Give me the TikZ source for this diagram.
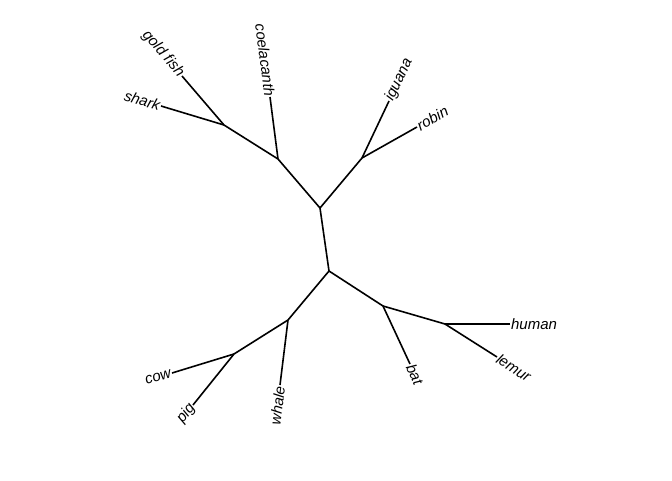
\documentclass[tikz,border=0pt]{standalone}
\usepackage{fontspec}
\setmainfont{Liberation Sans}
\begin{document}
\begin{tikzpicture}[x=1pt, y=-1pt, line width=1.6pt,
  leaf/.style={font=\itshape\fontsize{15}{17}\selectfont, inner sep=0.3pt}]
\useasboundingbox (0,0) rectangle (672,480);
% Internal nodes
\coordinate (top) at (320,208);
\coordinate (bottom) at (329,271);
\coordinate (fish) at (278,159);
\coordinate (sharks) at (224,125);
\coordinate (reptile) at (362,158);
\coordinate (mammal) at (288,320);
\coordinate (ungulate) at (234,354);
\coordinate (batprim) at (383,306);
\coordinate (primate) at (445,324);

% Leaves
\node[leaf, anchor=east, rotate=-49.4] (goldfish) at (182,76) {gold fish};
\node[leaf, anchor=east, rotate=-16.8] (shark) at (161,106) {shark};
\node[leaf, anchor=east, rotate=-82.6] (coelacanth) at (270,97) {coelacanth};
\node[leaf, anchor=west, rotate=64.6] (iguana) at (389,101) {iguana};
\node[leaf, anchor=west, rotate=29.4] (robin) at (417,127) {robin};
\node[leaf, anchor=east, rotate=17] (cow) at (172,373) {cow};
\node[leaf, anchor=east, rotate=51.2] (pig) at (193,405) {pig};
\node[leaf, anchor=east, rotate=83] (whale) at (280,385) {whale};
\node[leaf, anchor=west, rotate=-65] (bat) at (410,364) {bat};
\node[leaf, anchor=west] (human) at (510,324) {human};
\node[leaf, anchor=west, rotate=-32.4] (lemur) at (497,357) {lemur};

% Branches
\draw (top) -- (bottom);
\draw (top) -- (fish);
\draw (top) -- (reptile);
\draw (fish) -- (sharks);
\draw (fish) -- (coelacanth.east);
\draw (sharks) -- (goldfish.east);
\draw (sharks) -- (shark.east);
\draw (reptile) -- (iguana.west);
\draw (reptile) -- (robin.west);
\draw (bottom) -- (mammal);
\draw (bottom) -- (batprim);
\draw (mammal) -- (ungulate);
\draw (mammal) -- (whale.east);
\draw (ungulate) -- (cow.east);
\draw (ungulate) -- (pig.east);
\draw (batprim) -- (bat.west);
\draw (batprim) -- (primate);
\draw (primate) -- (human.west);
\draw (primate) -- (lemur.west);
\end{tikzpicture}
\end{document}
